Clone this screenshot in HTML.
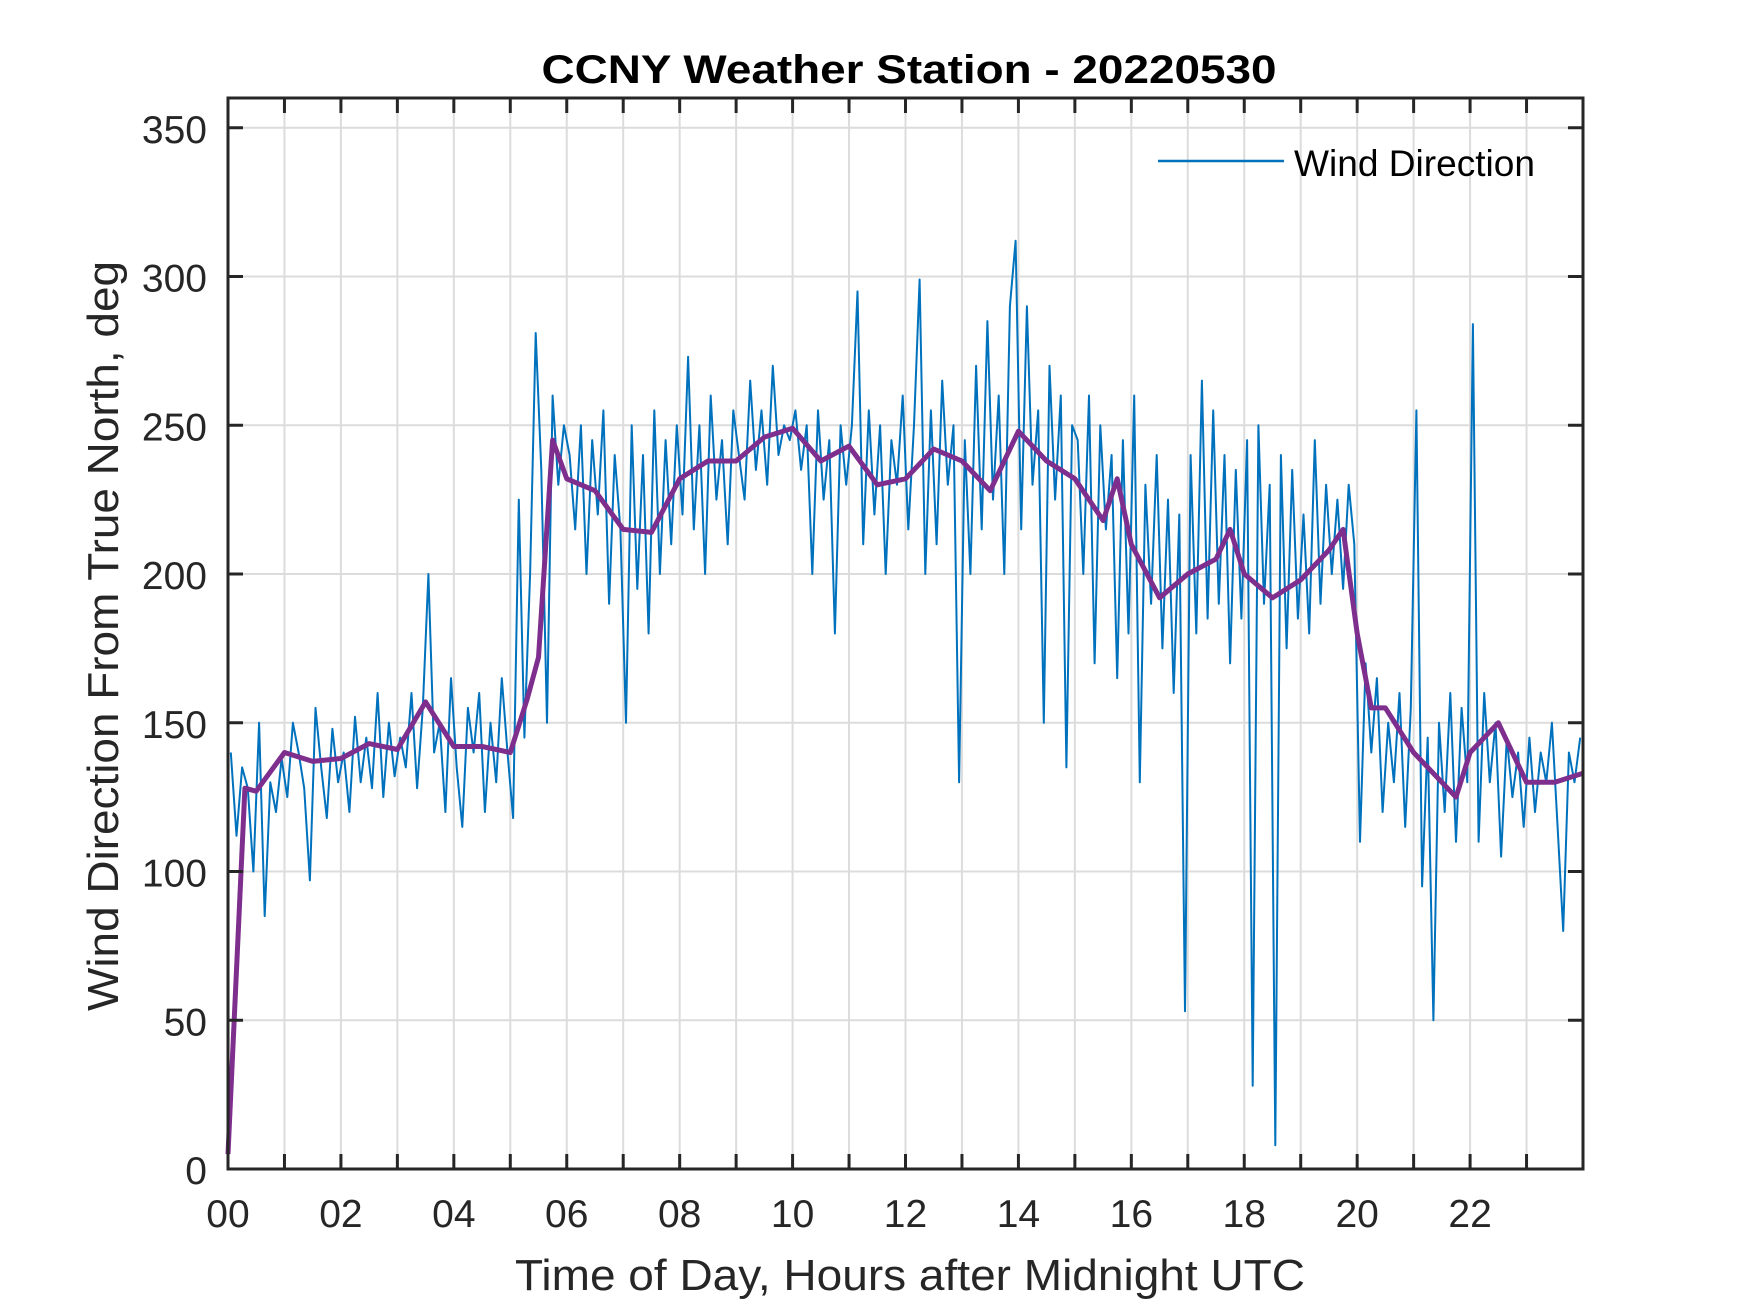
<!DOCTYPE html>
<html><head><meta charset="utf-8"><style>
html,body{margin:0;padding:0;background:#fff;}
svg{display:block;font-family:"Liberation Sans",Arial,sans-serif;}
</style></head><body>
<svg id="chart" width="1750" height="1313" xmlns="http://www.w3.org/2000/svg">
<rect width="1750" height="1313" fill="#fff"/>
<g id="grid"></g><g id="series"></g><g id="axes"></g>
<text x="909" y="83" text-anchor="middle" font-size="40" font-weight="bold" fill="#000" textLength="735" lengthAdjust="spacingAndGlyphs">CCNY Weather Station - 20220530</text>
<text x="910" y="1290" text-anchor="middle" font-size="44" fill="#262626" textLength="790" lengthAdjust="spacingAndGlyphs">Time of Day, Hours after Midnight UTC</text>
<text transform="translate(118,636) rotate(-90)" text-anchor="middle" font-size="44" fill="#262626" textLength="750" lengthAdjust="spacingAndGlyphs">Wind Direction From True North, deg</text>
<g>
<line x1="1158" y1="161" x2="1284" y2="161" stroke="#0072BD" stroke-width="2.5"/>
<text x="1294" y="176" font-size="37" fill="#000" textLength="241" lengthAdjust="spacingAndGlyphs">Wind Direction</text>
</g>
</svg>
<script>
const xTicks = [0,2,4,6,8,10,12,14,16,18,20,22];
const xTickLabels = ["00","02","04","06","08","10","12","14","16","18","20","22"];
const yTicks = [0,50,100,150,200,250,300,350];
const yTickLabels = ["0","50","100","150","200","250","300","350"];
const rawDir = [
140,112,135,128,100,150,85,130,120,138,
125,150,140,128,97,155,135,118,148,130,
140,120,152,130,145,128,160,125,150,132,
145,135,160,128,155,200,140,150,120,165,
135,115,155,140,160,120,150,130,165,140,
118,225,145,200,281,235,150,260,230,250,
240,215,250,200,245,220,255,190,240,215,
150,250,195,240,180,255,200,245,210,250,
220,273,215,250,200,260,225,245,210,255,
240,225,265,235,255,230,270,240,250,245,
255,235,250,200,255,225,245,180,250,230,
250,295,210,255,220,250,200,245,230,260,
215,250,299,200,255,210,265,230,250,130,
245,200,270,215,285,225,260,200,290,312,
215,290,230,255,150,270,225,260,135,250,
245,200,260,170,250,215,240,165,245,180,
260,130,230,190,240,175,225,160,220,53,
240,180,265,185,255,190,240,170,235,185,
245,28,250,190,230,8,240,175,235,185,
220,180,245,190,230,200,225,195,230,210,
110,170,140,165,120,150,130,160,115,155,
255,95,145,50,150,120,160,110,155,130,
284,110,160,130,150,105,145,125,140,115,
145,120,140,130,150,115,80,140,130,145];
const meanHours = [0,0.3,0.5,1.0,1.5,2.0,2.5,3.0,3.5,4.0,4.5,5.0,5.3,5.5,5.75,6.0,6.5,7.0,7.5,8.0,8.5,9.0,9.5,10.0,10.5,11.0,11.5,12.0,12.5,13.0,13.5,14.0,14.5,15.0,15.5,15.75,16.0,16.5,17.0,17.5,17.75,18.0,18.5,19.0,19.5,19.75,20.0,20.25,20.5,21.0,21.5,21.75,22.0,22.5,23.0,23.5,24.0];
const meanDir = [5,128,127,140,137,138,143,141,157,142,142,140,158,172,245,232,228,215,214,232,238,238,246,249,238,243,230,232,242,238,228,248,238,232,218,232,210,192,200,205,215,200,192,198,208,215,180,155,155,140,130,125,140,150,130,130,133];

const L=228,R=1583,T=98,B=1169;
const X=h=>L+(h/24)*(R-L);
const Y=v=>B-(v/360)*(B-T);
const NS="http://www.w3.org/2000/svg";
function mk(tag,attrs,parent){const e=document.createElementNS(NS,tag);for(const k in attrs)e.setAttribute(k,attrs[k]);parent.appendChild(e);return e;}
const grid=document.getElementById('grid'),series=document.getElementById('series'),axes=document.getElementById('axes');
for(let h=1;h<24;h++){const g=mk('line',{x1:X(h),x2:X(h),y1:T,y2:B,stroke:'#dcdcdc','stroke-width':2},grid);

}
yTicks.forEach(v=>{if(v===0)return;const g=mk('line',{x1:L,x2:R,y1:Y(v),y2:Y(v),stroke:'#dcdcdc','stroke-width':2},grid);

});
const rawPts=rawDir.map((v,i)=>X(i*24/rawDir.length+0.05).toFixed(1)+','+Y(v).toFixed(1)).join(' ');
const p1=mk('polyline',{points:rawPts,fill:'none',stroke:'#0072BD','stroke-width':2,'stroke-linejoin':'round'},series);


const meanPts=meanHours.map((h,i)=>X(h).toFixed(1)+','+Y(meanDir[i]).toFixed(1)).join(' ');
const p2=mk('polyline',{points:meanPts,fill:'none',stroke:'#7E2F8E','stroke-width':5,'stroke-linejoin':'round'},series);


const box=mk('rect',{x:L,y:T,width:R-L,height:B-T,fill:'none',stroke:'#262626','stroke-width':3},axes);


for(let h=1;h<24;h++){mk('line',{x1:X(h),x2:X(h),y1:B,y2:B-15,stroke:'#262626','stroke-width':3},axes);mk('line',{x1:X(h),x2:X(h),y1:T,y2:T+15,stroke:'#262626','stroke-width':3},axes);}
yTicks.forEach(v=>{mk('line',{x1:L,x2:L+15,y1:Y(v),y2:Y(v),stroke:'#262626','stroke-width':3},axes);mk('line',{x1:R,x2:R-15,y1:Y(v),y2:Y(v),stroke:'#262626','stroke-width':3},axes);});
xTicks.forEach((h,i)=>{const t=mk('text',{x:X(h),y:1227,'text-anchor':'middle','font-size':39,fill:'#262626'},axes);t.textContent=xTickLabels[i];

});
yTicks.forEach((v,i)=>{const t=mk('text',{x:207,y:Y(v)+15,'text-anchor':'end','font-size':39,fill:'#262626'},axes);t.textContent=yTickLabels[i];

});
</script>
</body></html>
